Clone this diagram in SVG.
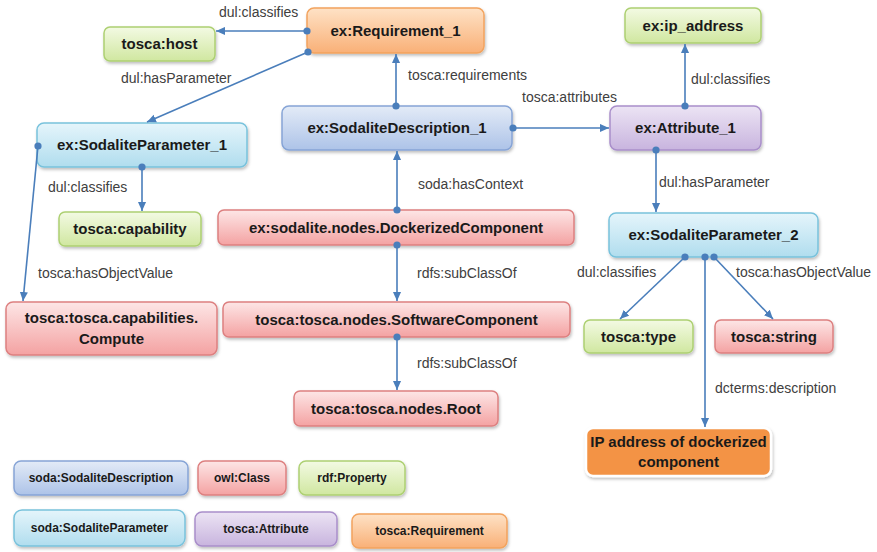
<svg xmlns="http://www.w3.org/2000/svg" width="877" height="552" viewBox="0 0 877 552">
  <defs>
    <linearGradient id="gBlue" x1="0" y1="0" x2="0" y2="1">
      <stop offset="0" stop-color="#E3EBF7"/><stop offset="1" stop-color="#ADC3E8"/>
    </linearGradient>
    <linearGradient id="gRed" x1="0" y1="0" x2="0" y2="1">
      <stop offset="0" stop-color="#FDE6E6"/><stop offset="1" stop-color="#F4A2A2"/>
    </linearGradient>
    <linearGradient id="gGreen" x1="0" y1="0" x2="0" y2="1">
      <stop offset="0" stop-color="#F3FAE3"/><stop offset="1" stop-color="#D0E7A0"/>
    </linearGradient>
    <linearGradient id="gCyan" x1="0" y1="0" x2="0" y2="1">
      <stop offset="0" stop-color="#E5F5FB"/><stop offset="1" stop-color="#B0DDEE"/>
    </linearGradient>
    <linearGradient id="gPurple" x1="0" y1="0" x2="0" y2="1">
      <stop offset="0" stop-color="#ECE4F4"/><stop offset="1" stop-color="#C8B4DE"/>
    </linearGradient>
    <linearGradient id="gOrange" x1="0" y1="0" x2="0" y2="1">
      <stop offset="0" stop-color="#FEE2C6"/><stop offset="1" stop-color="#F9B077"/>
    </linearGradient>
    <filter id="shadow" x="-10%" y="-20%" width="120%" height="160%">
      <feDropShadow dx="1" dy="2" stdDeviation="1.5" flood-color="#000" flood-opacity="0.25"/>
    </filter>
    <marker id="arrow" viewBox="0 0 10 10" refX="10" refY="5" markerWidth="9" markerHeight="9" markerUnits="userSpaceOnUse" orient="auto">
      <path d="M0,0.5 L10,5 L0,9.5 z" fill="#4A7EBB"/>
    </marker>
    <marker id="dot" viewBox="-5 -5 10 10" markerWidth="8" markerHeight="8" markerUnits="userSpaceOnUse">
      <circle r="4.5" fill="#4A7EBB"/>
    </marker>
  </defs>
  <style>
    .box { stroke-width: 1.5; filter: url(#shadow); }
    .blue { fill: url(#gBlue); stroke: #86A4D6; }
    .red { fill: url(#gRed); stroke: #DD8080; }
    .green { fill: url(#gGreen); stroke: #ADD072; }
    .cyan { fill: url(#gCyan); stroke: #78C2DC; }
    .purple { fill: url(#gPurple); stroke: #A98ECA; }
    .orange { fill: url(#gOrange); stroke: #F2A35E; }
    .lit { fill: #F39344; stroke: #FFFFFF; stroke-width: 2.5; filter: url(#shadow); }
    .nt { font-family: "Liberation Sans", Arial, sans-serif; font-weight: bold; font-size: 15px; fill: #1A1A1A; text-anchor: middle; }
    .lg { font-family: "Liberation Sans", Arial, sans-serif; font-weight: bold; font-size: 12px; fill: #1A1A1A; text-anchor: middle; }
    .el { font-family: "Liberation Sans", Arial, sans-serif; font-size: 14px; fill: #404040; }
    .edge { fill: none; stroke: #4A7EBB; stroke-width: 1.6; marker-start: url(#dot); marker-end: url(#arrow); }
  </style>
  <rect width="877" height="552" fill="#FFFFFF"/>

  <!-- nodes -->
  <g id="requirement_1">
    <rect class="box orange" x="307" y="8" width="177" height="45" rx="7"/>
    <text class="nt" x="395.5" y="36">ex:Requirement_1</text>
  </g>
  <g id="host">
    <rect class="box green" x="104" y="27" width="111" height="34" rx="6"/>
    <text class="nt" x="159.5" y="49">tosca:host</text>
  </g>
  <g id="ip_address">
    <rect class="box green" x="625" y="8" width="136" height="35" rx="6"/>
    <text class="nt" x="693" y="31">ex:ip_address</text>
  </g>
  <g id="sodalite_parameter_1">
    <rect class="box cyan" x="37" y="123" width="210" height="44" rx="7"/>
    <text class="nt" x="142" y="150">ex:SodaliteParameter_1</text>
  </g>
  <g id="sodalite_description_1">
    <rect class="box blue" x="282" y="106" width="230" height="44" rx="7"/>
    <text class="nt" x="397" y="133">ex:SodaliteDescription_1</text>
  </g>
  <g id="attribute_1">
    <rect class="box purple" x="610" y="106" width="151" height="44" rx="7"/>
    <text class="nt" x="685.5" y="133">ex:Attribute_1</text>
  </g>
  <g id="capability">
    <rect class="box green" x="59" y="212" width="142" height="34" rx="6"/>
    <text class="nt" x="130" y="234">tosca:capability</text>
  </g>
  <g id="dockerized_component">
    <rect class="box red" x="218" y="210" width="356" height="35" rx="6"/>
    <text class="nt" x="396" y="233">ex:sodalite.nodes.DockerizedComponent</text>
  </g>
  <g id="sodalite_parameter_2">
    <rect class="box cyan" x="609" y="213" width="209" height="44" rx="7"/>
    <text class="nt" x="713.5" y="240">ex:SodaliteParameter_2</text>
  </g>
  <g id="capabilities_compute">
    <rect class="box red" x="6" y="302" width="211" height="53" rx="7"/>
    <text class="nt" x="111.5" y="323">tosca:tosca.capabilities.</text>
    <text class="nt" x="111.5" y="344">Compute</text>
  </g>
  <g id="software_component">
    <rect class="box red" x="223" y="302" width="347" height="35" rx="6"/>
    <text class="nt" x="396.5" y="325">tosca:tosca.nodes.SoftwareComponent</text>
  </g>
  <g id="type">
    <rect class="box green" x="584" y="320" width="109" height="33" rx="6"/>
    <text class="nt" x="638.5" y="342">tosca:type</text>
  </g>
  <g id="string">
    <rect class="box red" x="715" y="320" width="118" height="33" rx="6"/>
    <text class="nt" x="774" y="342">tosca:string</text>
  </g>
  <g id="nodes_root">
    <rect class="box red" x="294" y="391" width="204" height="35" rx="6"/>
    <text class="nt" x="396" y="414">tosca:tosca.nodes.Root</text>
  </g>
  <g id="ip_description">
    <rect class="lit" x="586" y="428" width="185" height="48" rx="7"/>
    <text class="nt" x="678.5" y="447">IP address of dockerized</text>
    <text class="nt" x="678.5" y="467">component</text>
  </g>

  <!-- legend -->
  <g id="legend_description">
    <rect class="box blue" x="14" y="461" width="174" height="34" rx="7"/>
    <text class="lg" x="101" y="482">soda:SodaliteDescription</text>
  </g>
  <g id="legend_class">
    <rect class="box red" x="198" y="461" width="88" height="34" rx="7"/>
    <text class="lg" x="242" y="482">owl:Class</text>
  </g>
  <g id="legend_property">
    <rect class="box green" x="299" y="461" width="106" height="34" rx="7"/>
    <text class="lg" x="352" y="482">rdf:Property</text>
  </g>
  <g id="legend_parameter">
    <rect class="box cyan" x="14" y="510" width="171" height="36" rx="8"/>
    <text class="lg" x="99.5" y="532">soda:SodaliteParameter</text>
  </g>
  <g id="legend_attribute">
    <rect class="box purple" x="195" y="512" width="142" height="34" rx="7"/>
    <text class="lg" x="266" y="533">tosca:Attribute</text>
  </g>
  <g id="legend_requirement">
    <rect class="box orange" x="352" y="514" width="155" height="34" rx="7"/>
    <text class="lg" x="429.5" y="535">tosca:Requirement</text>
  </g>

  <!-- connectors -->
  <g id="connectors">
    <path class="edge" d="M307,31 L216,31"/>
    <path class="edge" d="M308,52 L147,122"/>
    <path class="edge" d="M396,106 L396,54"/>
    <path class="edge" d="M513,128 L609,128"/>
    <path class="edge" d="M685,106 L685,44"/>
    <path class="edge" d="M656,150 L656,212"/>
    <path class="edge" d="M38,146 L23,301"/>
    <path class="edge" d="M142,167 L142,211"/>
    <path class="edge" d="M397,210 L397,151"/>
    <path class="edge" d="M397,245 L397,301"/>
    <path class="edge" d="M397,337 L397,390"/>
    <path class="edge" d="M685,257 L620,319"/>
    <path class="edge" d="M714,257 L773,319"/>
    <path class="edge" d="M705,257 L705,427"/>
  </g>

  <!-- connector labels -->
  <g id="connector_labels">
    <text class="el" x="219" y="17">dul:classifies</text>
    <text class="el" x="121" y="83">dul:hasParameter</text>
    <text class="el" x="408" y="80">tosca:requirements</text>
    <text class="el" x="522" y="102">tosca:attributes</text>
    <text class="el" x="691" y="84">dul:classifies</text>
    <text class="el" x="48" y="192">dul:classifies</text>
    <text class="el" x="418" y="189">soda:hasContext</text>
    <text class="el" x="659" y="187">dul:hasParameter</text>
    <text class="el" x="38" y="278">tosca:hasObjectValue</text>
    <text class="el" x="417" y="278">rdfs:subClassOf</text>
    <text class="el" x="577" y="277">dul:classifies</text>
    <text class="el" x="736" y="277">tosca:hasObjectValue</text>
    <text class="el" x="417" y="368">rdfs:subClassOf</text>
    <text class="el" x="715" y="393">dcterms:description</text>
  </g>
</svg>
